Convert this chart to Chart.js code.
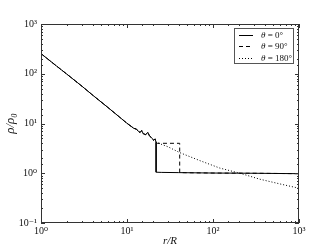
<!DOCTYPE html>
<html>
<head>
<meta charset="utf-8">
<script src="https://cdn.jsdelivr.net/npm/chart.js@4.4.0/dist/chart.umd.min.js"></script>
<style>
  html, body { margin: 0; padding: 0; background: #fff; }
  #wrap { width: 332px; height: 249px; }
</style>
</head>
<body>
<div id="wrap"><canvas id="densityChart" width="332" height="249"></canvas></div>
<script>
// inner profile, all three angles lie on top of each other here
const rShared   = [1, 1.5, 2, 3, 4, 6, 8, 10, 12, 12.9, 13.5, 14.2, 14.8, 15.5, 16.5, 17.5, 18.1, 19.5, 20.5, 21.2, 21.8];
const rhoShared = [254, 145, 98, 56, 37, 21, 13.9, 10.1, 8.0, 7.7, 7.0, 6.6, 7.2, 6.2, 6.0, 6.6, 5.8, 5.0, 4.6, 4.9, 4.2];

// outer parts, one per angle
const r0     = [21.8, 25, 40, 100, 300, 1000];
const rho0   = [1.05, 1.04, 1.03, 1.01, 1.0, 0.98];
const r90    = [22.5, 30, 41, 41, 60, 100, 300, 1000];
const rho90  = [4.0, 4.0, 4.0, 1.03, 1.02, 1.01, 1.0, 0.98];
const r180   = [30, 41, 70, 120, 206, 350, 600, 1000];
const rho180 = [3.4, 2.6, 1.8, 1.27, 1.0, 0.76, 0.61, 0.5];

const seriesLabels = ['0°', '90°', '180°'];
const xRange = [1, 1000];
const yRange = [0.1, 1000];

const SERIF = '"Liberation Serif", "DejaVu Serif", serif';

function toPoints(rs, rhos) {
    return rs.map((r, i) => ({ x: r, y: rhos[i] }));
}

function isDecade(v) {
    const l = Math.log10(v);
    return Math.abs(l - Math.round(l)) < 1e-6;
}

const supMap = { '-': '⁻', '0': '⁰', '1': '¹', '2': '²', '3': '³' };
function powLabel(v) {
    if (!isDecade(v)) return '';
    const e = String(Math.round(Math.log10(v)));
    return '10' + e.split('').map(c => supMap[c]).join('');
}

const shared = toPoints(rShared, rhoShared);

// box, inward ticks, axis titles and legend
const decorations = {
    id: 'decorations',
    afterDatasetsDraw(chart) {
        const { ctx, chartArea: a, scales } = chart;
        ctx.save();
        ctx.strokeStyle = '#333';
        ctx.lineWidth = 1;
        ctx.beginPath();
        scales.x.ticks.forEach(t => {
            const px = Math.round(scales.x.getPixelForValue(t.value)) + 0.5;
            const len = isDecade(t.value) ? 4 : 2;
            ctx.moveTo(px, a.bottom); ctx.lineTo(px, a.bottom - len);
            ctx.moveTo(px, a.top); ctx.lineTo(px, a.top + len);
        });
        scales.y.ticks.forEach(t => {
            const py = Math.round(scales.y.getPixelForValue(t.value)) + 0.5;
            const len = isDecade(t.value) ? 4 : 2;
            ctx.moveTo(a.left, py); ctx.lineTo(a.left + len, py);
            ctx.moveTo(a.right, py); ctx.lineTo(a.right - len, py);
        });
        ctx.stroke();
        ctx.strokeRect(Math.round(a.left) + 0.5, Math.round(a.top) + 0.5,
                       Math.round(a.width) - 1, Math.round(a.height) - 1);
        ctx.restore();
    },
    afterDraw(chart) {
        const { ctx, chartArea: a } = chart;
        ctx.save();
        ctx.fillStyle = '#111';
        ctx.textBaseline = 'middle';

        // axis titles
        ctx.font = 'italic 11px ' + SERIF;
        ctx.textAlign = 'center';
        ctx.fillText('r/R', (a.left + a.right) / 2, 241);
        ctx.save();
        ctx.translate(11, (a.top + a.bottom) / 2);
        ctx.rotate(-Math.PI / 2);
        ctx.font = 'italic 13px ' + SERIF;
        ctx.fillText('ρ/ρ₀', 0, 0);
        ctx.restore();

        // legend
        const bx = 234.5, by = 28.5, bw = 59, bh = 35;
        ctx.fillStyle = '#fff';
        ctx.fillRect(bx, by, bw, bh);
        ctx.strokeStyle = '#555';
        ctx.lineWidth = 1;
        ctx.strokeRect(bx, by, bw, bh);

        chart.data.datasets.forEach((ds, i) => {
            const yy = Math.round(by + 6.5 + i * 11.3) + 0.5;
            ctx.strokeStyle = '#000';
            ctx.setLineDash(ds.borderDash || []);
            ctx.beginPath();
            ctx.moveTo(239, yy);
            ctx.lineTo(253, yy);
            ctx.stroke();
            ctx.setLineDash([]);

            ctx.fillStyle = '#111';
            ctx.textAlign = 'left';
            ctx.font = 'italic 9px ' + SERIF;
            ctx.fillText('θ', 261, yy);
            const w = ctx.measureText('θ').width;
            ctx.font = '9px ' + SERIF;
            ctx.fillText(' = ' + seriesLabels[i], 261 + w, yy);
        });
        ctx.restore();
    }
};

new Chart(document.getElementById('densityChart'), {
    type: 'scatter',
    data: {
        datasets: [
            {
                label: 'θ = 0°',
                data: shared.concat(toPoints(r0, rho0)),
                borderColor: '#000',
                borderWidth: 1
            },
            {
                label: 'θ = 90°',
                data: shared.concat(toPoints(r90, rho90)),
                borderColor: '#000',
                borderWidth: 1,
                borderDash: [4, 3]
            },
            {
                label: 'θ = 180°',
                data: shared.concat(toPoints(r180, rho180)),
                borderColor: '#000',
                borderWidth: 1,
                borderDash: [1, 2]
            }
        ]
    },
    options: {
        responsive: false,
        animation: false,
        devicePixelRatio: 1,
        showLine: true,
        elements: {
            point: { radius: 0, hoverRadius: 0 },
            line: { tension: 0, fill: false }
        },
        layout: { padding: { top: 24, right: 33, left: 0, bottom: 0 } },
        scales: {
            x: {
                type: 'logarithmic',
                min: xRange[0],
                max: xRange[1],
                grid: { display: false, drawTicks: false, tickLength: 0 },
                border: { display: false },
                afterFit: s => { s.height = 26; },
                ticks: {
                    autoSkip: false,
                    maxRotation: 0,
                    padding: 2,
                    color: '#111',
                    font: { family: SERIF, size: 10 },
                    callback: v => powLabel(v)
                }
            },
            y: {
                type: 'logarithmic',
                min: yRange[0],
                max: yRange[1],
                grid: { display: false, drawTicks: false, tickLength: 0 },
                border: { display: false },
                afterFit: s => { s.width = 41; },
                ticks: {
                    autoSkip: false,
                    padding: 4,
                    color: '#111',
                    font: { family: SERIF, size: 10 },
                    callback: v => powLabel(v)
                }
            }
        },
        plugins: {
            legend: { display: false },
            tooltip: { enabled: false }
        }
    },
    plugins: [decorations]
});
</script>
</body>
</html>
